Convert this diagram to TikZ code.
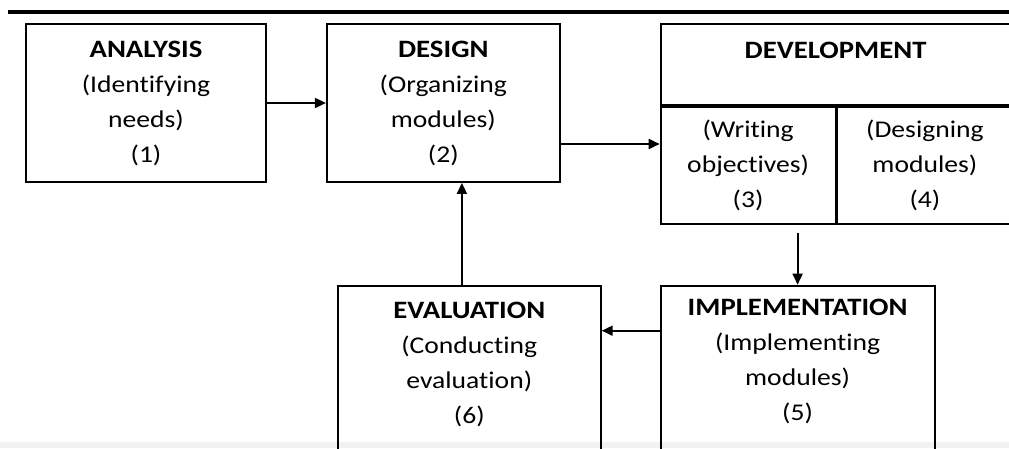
\documentclass[tikz,border=0pt]{standalone}
\usepackage{fontspec}
\setmainfont{Carlito}[FakeStretch=1.15,Ligatures=NoCommon]
\usetikzlibrary{arrows.meta,positioning,calc}
\newcommand{\stg}[1]{{\bfseries\fontsize{25}{35}\selectfont #1}}

\begin{document}
\begin{tikzpicture}[->,>={Triangle[length=11pt,width=10pt]},line width=1.8pt,x=1pt,y=1pt,
  box/.style={draw,rectangle,inner sep=0pt,align=center},
  every node/.style={font=\fontsize{24}{35}\selectfont}]

  \useasboundingbox (0,0) rectangle (1009,448);
  \clip (0,0) rectangle (1009,448);
  \fill[black!5] (0,0) rectangle (1009,6);
  \draw[-,line width=4pt] (8,436) -- (1009,436);

  \node[box,minimum width=240pt,minimum height=158pt] (analysis) at (146,345) {\stg{ANALYSIS}\\(Identifying\\needs)\\(1)};
  \node[box,minimum width=233pt,minimum height=158pt,right=59pt of analysis] (design) {\stg{DESIGN}\\(Organizing\\modules)\\(2)};

  \node[box,minimum width=350pt,minimum height=81pt,right=99pt of design.north east,anchor=north west] (devtop) {};
  \node (devtitle) at ([yshift=-27pt]devtop.north) {\stg{DEVELOPMENT}};
  \node[box,minimum width=175pt,minimum height=117pt,below=0pt of devtop.south west,anchor=north west] (writing) {(Writing\\objectives)\\(3)};
  \node[box,minimum width=175pt,minimum height=117pt,right=0pt of writing] (designing) {(Designing\\modules)\\(4)};

  \node[box,minimum width=274pt,minimum height=190pt,below=60pt of writing.south west,anchor=north west] (impl) {};
  \node[align=center] (impltext) at ([yshift=-77pt]impl.north) {\stg{IMPLEMENTATION}\\(Implementing\\modules)\\(5)};
  \node[box,minimum width=263pt,minimum height=190pt,left=58pt of impl.north west,anchor=north east] (eval) {};
  \node[align=center] (evaltext) at ([yshift=-80pt]eval.north) {\stg{EVALUATION}\\(Conducting\\evaluation)\\(6)};

  \path (analysis) edge (design);
  \coordinate (d2) at ([yshift=-41pt]design.east);
  \path (d2) edge (d2 -| writing.west);
  \path ([yshift=-8pt]impl.north |- writing.south) edge (impl.north);
  \coordinate (i5) at ([yshift=-46pt]impl.north west);
  \path (i5) edge (i5 -| eval.east);
  \coordinate (e6) at ([xshift=125pt]eval.north west);
  \path (e6) edge (e6 |- design.south);

\end{tikzpicture}
\end{document}
